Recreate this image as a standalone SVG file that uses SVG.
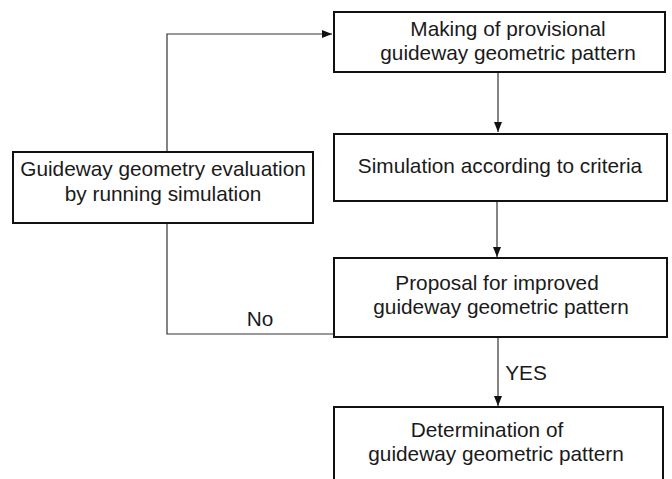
<svg xmlns="http://www.w3.org/2000/svg" width="672" height="479" viewBox="0 0 672 479">
  <style>
    .box { fill: #fff; stroke: #111; stroke-width: 2; }
    .edge { fill: none; stroke: #333; stroke-width: 1.2; }
    .lbl { font-family: "Liberation Sans", Arial, sans-serif; font-size: 20.8px; fill: #1a1a1a; text-anchor: middle; }
  </style>
  <defs>
    <marker id="arrow" viewBox="0 0 10 8" refX="10" refY="4" markerWidth="10" markerHeight="8" markerUnits="userSpaceOnUse" orient="auto">
      <path d="M0,0 L10,4 L0,8 Z" fill="#111"/>
    </marker>
  </defs>
  <rect width="672" height="479" fill="#fff"/>

  <g id="connectors">
    <path class="edge" d="M167,152 V34 H332" marker-end="url(#arrow)"/>
    <path class="edge" d="M498,73 V132" marker-end="url(#arrow)"/>
    <path class="edge" d="M497,202 V257" marker-end="url(#arrow)"/>
    <path class="edge" d="M333,334 H167 V224"/>
    <path class="edge" d="M498,338 V406" marker-end="url(#arrow)"/>
    <text class="lbl" x="260" y="326">No</text>
    <text class="lbl" x="526" y="380">YES</text>
  </g>

  <g id="node-provisional">
    <rect class="box" x="334" y="12" width="331" height="60"/>
    <text class="lbl" x="508" y="36">Making of provisional</text>
    <text class="lbl" x="508" y="60">guideway geometric pattern</text>
  </g>

  <g id="node-simulation">
    <rect class="box" x="334" y="134" width="333" height="67"/>
    <text class="lbl" x="500" y="173">Simulation according to criteria</text>
  </g>

  <g id="node-evaluation">
    <rect class="box" x="13" y="152" width="300" height="71"/>
    <text class="lbl" x="163" y="176">Guideway geometry evaluation</text>
    <text class="lbl" x="163" y="201">by running simulation</text>
  </g>

  <g id="node-proposal">
    <rect class="box" x="334" y="258" width="333" height="79"/>
    <text class="lbl" x="497" y="290">Proposal for improved</text>
    <text class="lbl" x="501" y="314">guideway geometric pattern</text>
  </g>

  <g id="node-determination">
    <rect class="box" x="334" y="407" width="329" height="90"/>
    <text class="lbl" x="487" y="437">Determination of</text>
    <text class="lbl" x="496" y="461">guideway geometric pattern</text>
  </g>
</svg>
